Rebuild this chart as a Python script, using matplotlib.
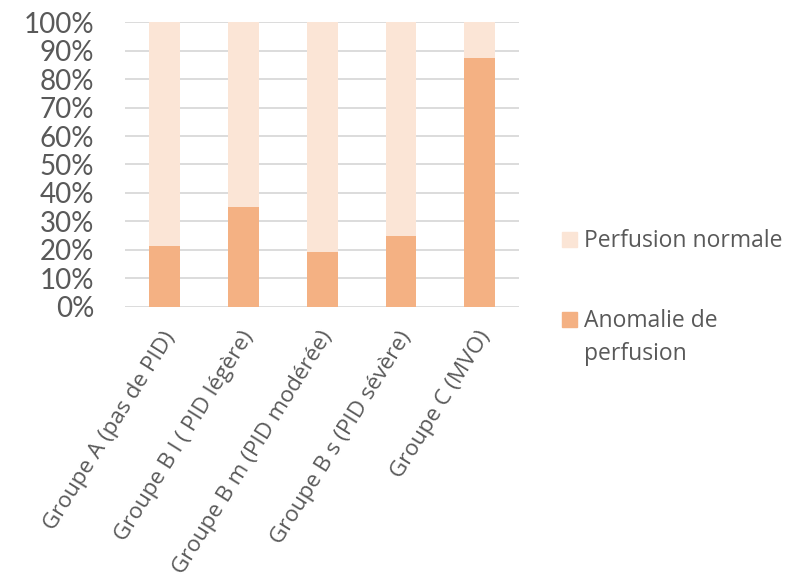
import numpy as np
import matplotlib.pyplot as plt
import matplotlib.transforms as mtrans
from matplotlib.patches import Rectangle

# data (share of patients, %)
groupes = ["Groupe A (pas de PID)", "Groupe B l ( PID légère)", "Groupe B m (PID modérée)",
           "Groupe B s (PID sévère)", "Groupe C (MVO)"]
anomalie = [21.4, 35.0, 19.2, 24.8, 87.5]
normale = [100 - v for v in anomalie]
series_names = ["Perfusion normale", "Anomalie de\nperfusion"]

col_anom = "#F4B183"
col_norm = "#FBE5D6"
grey = "#595959"

fig = plt.figure(figsize=(7.88, 5.76), dpi=100)
ax = fig.add_axes([125 / 788, 1 - 306.7 / 576, 394.3 / 788, 284.4 / 576])

x = np.arange(len(groupes))
ax.bar(x, anomalie, width=0.39, color=col_anom, zorder=3)
ax.bar(x, normale, width=0.39, bottom=anomalie, color=col_norm, zorder=3)

ax.set_xlim(-0.5, len(groupes) - 0.5)
ax.set_ylim(0, 100)
ax.set_yticks(np.arange(0, 101, 10))
ax.set_yticklabels([f"{v}%" for v in range(0, 101, 10)], fontsize=20, color=grey, family="Lato")
ax.yaxis.grid(True, color="#D9D9D9", linewidth=1.3, zorder=0)
ax.set_axisbelow(True)
for s in ax.spines.values():
    s.set_visible(False)
ax.tick_params(axis="y", length=0, pad=22)

ax.set_xticks(x)
ax.set_xticklabels(groupes, rotation=58, ha="right", va="top", rotation_mode="anchor",
                   fontsize=16.2, color=grey, family="Open Sans")
ax.tick_params(axis="x", length=0, pad=15)
# nudge labels so each ends just under its bar
off = mtrans.ScaledTranslation(-2 / 72, 0, fig.dpi_scale_trans)
for lbl in ax.get_xticklabels():
    lbl.set_transform(lbl.get_transform() + off)

# legend drawn by hand (square sits on the first text line)
leg_colors = [col_norm, col_anom]
leg_baselines = [246.7, 327.3]
line_step = 32.7
for name, c, base in zip(series_names, leg_colors, leg_baselines):
    fig.patches.append(Rectangle((562 / 788, 1 - base / 576), 15 / 788, 15 / 576,
                                 transform=fig.transFigure, color=c))
    for i, part in enumerate(name.split("\n")):
        fig.text(584 / 788, 1 - (base + i * line_step) / 576, part, fontsize=16.5,
                 color=grey, family="Open Sans", va="baseline", ha="left")

fig.savefig("out.png", dpi=100)
